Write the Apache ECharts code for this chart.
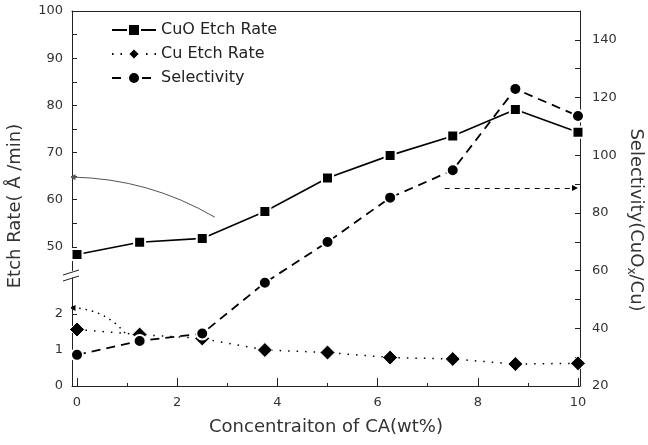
<!DOCTYPE html>
<html>
<head>
<meta charset="utf-8">
<script src="https://cdn.jsdelivr.net/npm/echarts@6/dist/echarts.min.js"></script>
<style>
html,body{margin:0;padding:0;background:#fff;}
#c{width:648px;height:445px;}
</style>
</head>
<body>
<div id="c"></div>
<script>
// ---- data ----
const concentration = [0, 1.25, 2.5, 3.75, 5, 6.25, 7.5, 8.75, 10];
const cuoEtchRate   = [48.4, 51.0, 51.8, 57.5, 64.6, 69.4, 73.5, 79.1, 74.3];
const cuEtchRate    = [1.57, 1.43, 1.32, 1.00, 0.93, 0.79, 0.75, 0.61, 0.63];
const selectivity   = [30.8, 35.6, 38.2, 55.8, 69.9, 85.3, 94.8, 123.0, 113.6];

const xMajorTicks = [0, 2, 4, 6, 8, 10];
const xMinorTicks = [1, 3, 5, 7, 9];
const upperEtchTicks = [50, 55, 60, 65, 70, 75, 80, 85, 90, 95, 100];
const upperEtchLabels = [50, 60, 70, 80, 90, 100];
const lowerEtchTicks = [0, 1, 2];
const selTicks = [20, 30, 40, 50, 60, 70, 80, 90, 100, 110, 120, 130, 140, 150];
const selLabels = [20, 40, 60, 80, 100, 120, 140];

// arrow annotations (data coordinates)
const cuoArrow = [[2.75, 56.3], [-0.09, 64.8]];
const cuArrow = [[0.96, 1.47], [-0.09, 2.17]];
const selArrow = [[7.34, 88.6], [9.94, 88.6]];

const pair = (xs, ys) => xs.map((x, i) => [x, ys[i]]);

const FONT = 'DejaVu Sans';
const AX = '#222';
const xMin = -0.1, xMax = 10.04;

const chart = echarts.init(document.getElementById('c'));
const tickLabel = { color: '#333', fontSize: 13, fontFamily: FONT };

const option = {
  animation: false,
  backgroundColor: '#fff',
  grid: [
    { left: 72, top: 11, width: 508, height: 259.5 },
    { left: 72, top: 278, width: 508, height: 108 },
    { left: 72, top: 11, width: 508, height: 375 }
  ],
  legend: {
    left: 111, top: 22, orient: 'vertical',
    itemWidth: 44, itemHeight: 15, itemGap: 8, padding: 0,
    textStyle: { fontSize: 16, fontFamily: FONT, color: '#222' },
    data: ['CuO Etch Rate', 'Cu Etch Rate', 'Selectivity']
  },
  xAxis: [
    { gridIndex: 0, type: 'value', min: xMin, max: xMax, position: 'top',
      axisLine: { show: true, lineStyle: { color: AX, width: 1 } },
      axisTick: { show: false }, axisLabel: { show: false }, splitLine: { show: false } },
    { gridIndex: 1, type: 'value', min: xMin, max: xMax, show: false },
    { gridIndex: 2, type: 'value', min: xMin, max: xMax, position: 'bottom',
      axisLine: { show: true, onZero: false, lineStyle: { color: AX, width: 1 } },
      axisTick: { show: true, inside: true, length: 8, customValues: xMajorTicks, lineStyle: { color: AX } },
      axisLabel: Object.assign({ customValues: xMajorTicks, margin: 10 }, tickLabel),
      splitLine: { show: false } },
    { gridIndex: 2, type: 'value', min: xMin, max: xMax, position: 'bottom',
      axisLine: { show: false, onZero: false },
      axisTick: { show: true, inside: true, length: 3, customValues: xMinorTicks, lineStyle: { color: AX } },
      axisLabel: { show: false }, splitLine: { show: false } }
  ],
  yAxis: [
    { gridIndex: 0, type: 'value', min: 45, max: 100, position: 'left',
      axisLine: { show: true, onZero: false, lineStyle: { color: AX, width: 1 } },
      axisTick: { show: true, inside: true, length: 5, customValues: upperEtchTicks, lineStyle: { color: AX } },
      axisLabel: Object.assign({ customValues: upperEtchLabels, margin: 9 }, tickLabel),
      splitLine: { show: false } },
    { gridIndex: 1, type: 'value', min: 0, max: 3, position: 'left',
      axisLine: { show: true, onZero: false, lineStyle: { color: AX, width: 1 } },
      axisTick: { show: true, inside: true, length: 5, customValues: lowerEtchTicks, lineStyle: { color: AX } },
      axisLabel: Object.assign({ customValues: lowerEtchTicks, margin: 9 }, tickLabel),
      splitLine: { show: false } },
    { gridIndex: 2, type: 'value', min: 20, max: 150, position: 'right',
      axisLine: { show: true, onZero: false, lineStyle: { color: AX, width: 1 } },
      axisTick: { show: true, inside: true, length: 5, customValues: selTicks, lineStyle: { color: AX } },
      axisLabel: Object.assign({ customValues: selLabels, margin: 12 }, tickLabel),
      splitLine: { show: false } }
  ],
  series: [
    { name: 'CuO Etch Rate', type: 'line', xAxisIndex: 0, yAxisIndex: 0, clip: false,
      data: pair(concentration, cuoEtchRate),
      symbol: 'rect', symbolSize: 11,
      lineStyle: { color: '#000', width: 1.6, type: 'solid' },
      itemStyle: { color: '#000', borderColor: '#fff', borderWidth: 2 },
      z: 3 },
    { name: 'Cu Etch Rate', type: 'line', xAxisIndex: 1, yAxisIndex: 1, clip: false,
      data: pair(concentration, cuEtchRate),
      symbol: 'diamond', symbolSize: [15, 15],
      lineStyle: { color: '#000', width: 1.5, type: [1.5, 7] },
      itemStyle: { color: '#000', borderColor: '#fff', borderWidth: 1 },
      z: 3 },
    { name: 'Selectivity', type: 'line', xAxisIndex: 2, yAxisIndex: 2, clip: false,
      data: pair(concentration, selectivity),
      symbol: 'circle', symbolSize: 12,
      lineStyle: { color: '#000', width: 1.8, type: [9, 6] },
      itemStyle: { color: '#000', borderColor: '#fff', borderWidth: 2 },
      z: 4 },
    // axis-pointer arrows (annotations)
    { type: 'lines', coordinateSystem: 'cartesian2d', xAxisIndex: 0, yAxisIndex: 0, silent: true,
      symbol: ['none', 'triangle'], symbolSize: 6, z: 2,
      lineStyle: { color: '#555', width: 1, type: 'solid', curveness: -0.13, opacity: 1 },
      data: [{ coords: cuoArrow }] },
    { type: 'lines', coordinateSystem: 'cartesian2d', xAxisIndex: 1, yAxisIndex: 1, silent: true,
      symbol: ['none', 'triangle'], symbolSize: 6, z: 2,
      lineStyle: { color: '#000', width: 1.5, type: [1.5, 5], curveness: -0.22, opacity: 1 },
      data: [{ coords: cuArrow }] },
    { type: 'lines', coordinateSystem: 'cartesian2d', xAxisIndex: 2, yAxisIndex: 2, silent: true,
      symbol: ['none', 'triangle'], symbolSize: 6, z: 2,
      lineStyle: { color: '#000', width: 1.2, type: [5, 5], opacity: 1 },
      data: [{ coords: selArrow }] }
  ],
  graphic: [
    { type: 'text', x: 15, y: 206, rotation: Math.PI / 2,
      style: { text: 'Etch Rate( Å /min)', fontSize: 18, fontFamily: FONT, fill: '#333',
        align: 'center', verticalAlign: 'middle' } },
    { type: 'text', x: 636, y: 220, rotation: -Math.PI / 2,
      style: { text: 'Selectivity(CuO{sub|x}/Cu)', fontSize: 18, fontFamily: FONT, fill: '#333',
        align: 'center', verticalAlign: 'middle',
        rich: { sub: { fontSize: 12, fontFamily: FONT, fill: '#333', padding: [10, 0, 0, 0] } } } },
    { type: 'text', x: 326, y: 427,
      style: { text: 'Concentraiton of CA(wt%)', fontSize: 18, fontFamily: FONT, fill: '#333',
        align: 'center', verticalAlign: 'middle' } },
    { type: 'line', shape: { x1: 63, y1: 275, x2: 79, y2: 270 }, style: { stroke: AX, lineWidth: 1 } },
    { type: 'line', shape: { x1: 63, y1: 281, x2: 79, y2: 276 }, style: { stroke: AX, lineWidth: 1 } }
  ]
};
chart.setOption(option);
</script>
</body>
</html>
